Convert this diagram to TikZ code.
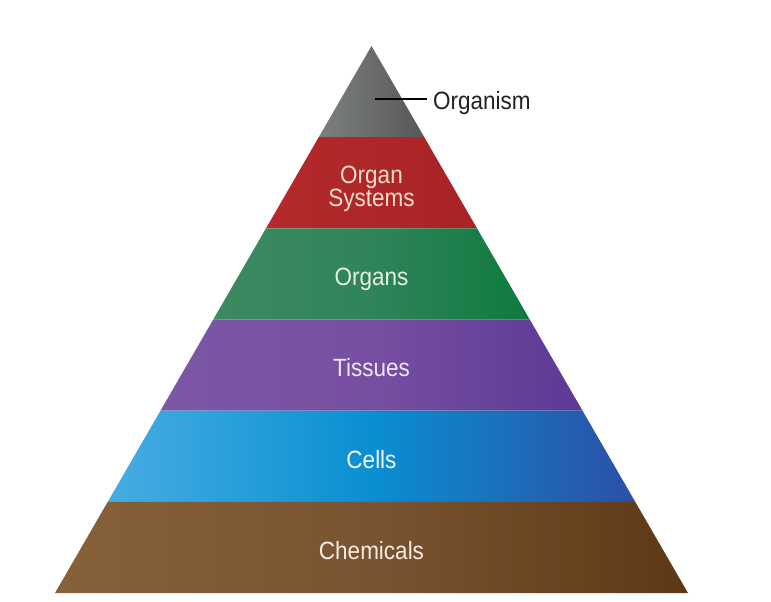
\documentclass[tikz,border=0pt]{standalone}
\usepackage{fontspec}
\newfontfamily\lblfont[FakeStretch=0.9]{Liberation Sans}
\definecolor{grayL}{HTML}{7D8081}
\definecolor{grayR}{HTML}{565759}
\definecolor{redL}{HTML}{B52A2B}
\definecolor{redR}{HTML}{A82326}
\definecolor{greenL}{HTML}{3E8A62}
\definecolor{greenM}{HTML}{2F845A}
\definecolor{greenR}{HTML}{0E7A3E}
\definecolor{purpL}{HTML}{7B57A6}
\definecolor{purpM}{HTML}{774FA2}
\definecolor{purpR}{HTML}{5B3995}
\definecolor{blueL}{HTML}{46ADE2}
\definecolor{blueM}{HTML}{0A8FD2}
\definecolor{blueR}{HTML}{2C4FA6}
\definecolor{brownL}{HTML}{876139}
\definecolor{brownM}{HTML}{7A5430}
\definecolor{brownR}{HTML}{5C3914}
\definecolor{txtcream}{HTML}{F6DEC8}
\definecolor{txtgreen}{HTML}{E4EEE2}
\definecolor{txtpurp}{HTML}{EEE6F3}
\definecolor{txtblue}{HTML}{F2F8FC}
\definecolor{txtbrown}{HTML}{F3EDE5}
\definecolor{lbldark}{HTML}{222222}
\tikzset{
  lvltext/.style={font=\lblfont\fontsize{25}{21}\selectfont, align=center, inner sep=0pt, anchor=base},
}
\begin{document}
\begin{tikzpicture}[x=1pt,y=-1pt]
\useasboundingbox (0,0) rectangle (771,602);
% layers
\path[left color=grayL, right color=grayR] (371.5,46) -- (424.27,137.17) -- (318.73,137.17) -- cycle;
\path[left color=redL, right color=redR] (318.73,137.17) -- (424.27,137.17) -- (477,228.33) -- (266,228.33) -- cycle;
\path[left color=greenL, right color=greenR, middle color=greenM] (266,228.33) -- (477,228.33) -- (529.75,319.5) -- (213.25,319.5) -- cycle;
\path[left color=purpL, right color=purpR, middle color=purpM] (213.25,319.5) -- (529.75,319.5) -- (582.5,410.67) -- (160.5,410.67) -- cycle;
\path[left color=blueL, right color=blueR, middle color=blueM] (160.5,410.67) -- (582.5,410.67) -- (635.25,501.83) -- (107.75,501.83) -- cycle;
\path[left color=brownL, right color=brownR, middle color=brownM] (107.75,501.83) -- (635.25,501.83) -- (688,593) -- (55,593) -- cycle;
% labels
\node[lvltext, text=txtcream, anchor=center] (systems) at (371.5,189) {Organ\\Systems};
\node[lvltext, text=txtgreen] (organs) at (371.5,285) {Organs};
\node[lvltext, text=txtpurp] (tissues) at (371.5,376.5) {Tissues};
\node[lvltext, text=txtblue] (cells) at (371.5,468) {Cells};
\node[lvltext, text=txtbrown] (chem) at (371.5,559) {Chemicals};
\node[lvltext, text=lbldark, anchor=base west] (organism) at (433,109.5) {Organism};
\coordinate (tip) at (375,99);
\draw[line width=2pt, black] (tip) -- ([xshift=-6pt]tip -| organism.west);
\end{tikzpicture}
\end{document}
